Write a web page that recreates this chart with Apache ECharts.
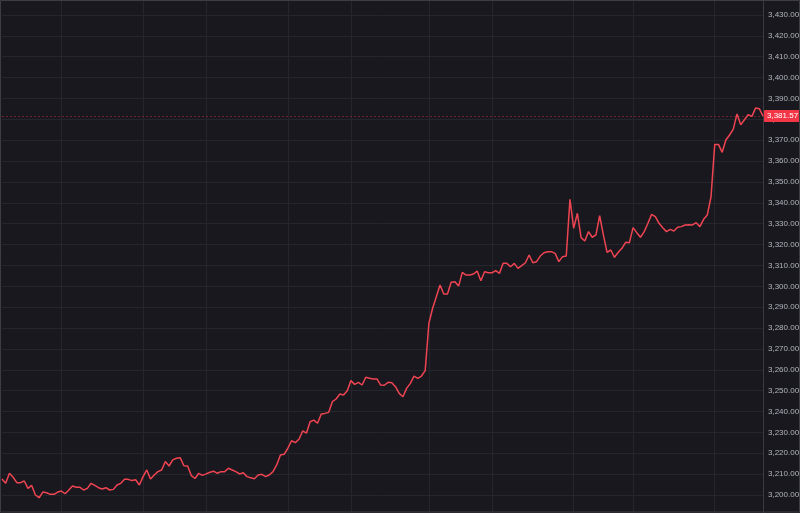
<!DOCTYPE html>
<html>
<head>
<meta charset="utf-8">
<script src="https://cdn.jsdelivr.net/npm/echarts@6/dist/echarts.min.js"></script>
<style>
html,body{margin:0;padding:0;background:#18181e;}
#chart{width:800px;height:513px;}
</style>
</head>
<body>
<div id="chart"></div>
<script>
// Price series, evenly spaced bars
const values = [
3207.7, 3205.6, 3210.4, 3208.5, 3205.9, 3205.9, 3206.7, 3203.2, 3204.6, 3200.0,
3198.7, 3201.4, 3201.1, 3200.3, 3200.3, 3201.4, 3201.9, 3200.6, 3202.4, 3204.3,
3203.7, 3203.7, 3202.4, 3203.2, 3205.6, 3204.6, 3203.5, 3202.9, 3203.5, 3202.4,
3202.7, 3204.8, 3205.6, 3207.5, 3207.5, 3206.9, 3207.3, 3204.8, 3208.8, 3212.0,
3207.7, 3209.6, 3211.2, 3212.0, 3216.0, 3213.9, 3216.8, 3217.6, 3217.9, 3214.0,
3213.9, 3209.3, 3207.9, 3210.4, 3209.4, 3210.1, 3210.9, 3211.4, 3210.4, 3211.2,
3211.2, 3212.8, 3212.0, 3211.2, 3210.1, 3210.7, 3208.8, 3208.3, 3207.8, 3209.6,
3209.9, 3208.8, 3209.6, 3211.2, 3214.4, 3219.2, 3219.5, 3222.4, 3226.0, 3225.1,
3226.7, 3230.7, 3229.6, 3235.1, 3235.9, 3234.4, 3238.8, 3239.1, 3239.6, 3244.7,
3246.0, 3248.4, 3247.9, 3250.0, 3254.8, 3253.0, 3254.0, 3252.7, 3256.4, 3255.9,
3255.6, 3255.6, 3252.7, 3252.6, 3254.0, 3253.8, 3251.9, 3248.7, 3247.1, 3251.1,
3253.5, 3257.0, 3255.9, 3257.0, 3259.6, 3282.3, 3289.5, 3295.0, 3300.6, 3296.3,
3296.3, 3301.9, 3302.2, 3300.1, 3306.7, 3305.4, 3305.4, 3305.9, 3307.3, 3302.7,
3307.0, 3306.5, 3306.5, 3307.5, 3306.2, 3311.0, 3311.0, 3309.4, 3311.0, 3308.6,
3309.9, 3311.3, 3315.0, 3311.3, 3311.8, 3314.5, 3316.1, 3316.6, 3316.6, 3315.8,
3311.8, 3314.2, 3314.5, 3341.7, 3327.8, 3335.0, 3323.3, 3321.7, 3326.2, 3323.5,
3324.6, 3333.8, 3324.6, 3316.3, 3317.4, 3313.9, 3316.3, 3318.2, 3321.1, 3320.9,
3328.1, 3325.7, 3323.5, 3326.2, 3330.2, 3334.5, 3333.4, 3330.2, 3328.1, 3326.2,
3327.3, 3326.5, 3328.3, 3328.6, 3329.4, 3329.5, 3329.4, 3330.5, 3328.6, 3332.1,
3334.2, 3342.9, 3368.0, 3368.0, 3364.2, 3370.1, 3372.5, 3375.3, 3382.6, 3377.4,
3379.8, 3382.2, 3381.4, 3385.4, 3385.1, 3381.57
];
// Category labels (bar index)
const categories = values.map((_, i) => String(i + 1));
// Bars where a vertical grid line is drawn
const sessionStarts = [16, 38, 55, 77, 94, 115, 132, 154, 170, 192];
// Price axis
const yMin = 3190, yMax = 3440, yStep = 10;
const lastPrice = values[values.length - 1];

const fmt = v => Number(v).toLocaleString('en-US', {minimumFractionDigits: 2, maximumFractionDigits: 2});

const chart = echarts.init(document.getElementById('chart'), null, {renderer: 'canvas'});
chart.setOption({
  backgroundColor: '#18181e',
  animation: false,
  grid: {left: 2, right: 37, top: -5.87, bottom: -2.87, containLabel: false, outerBoundsMode: 'none'},
  xAxis: {
    type: 'category',
    data: categories,
    boundaryGap: false,
    axisLine: {show: false},
    axisTick: {show: false},
    axisLabel: {show: false},
    splitLine: {
      show: true,
      interval: (idx) => sessionStarts.indexOf(idx) >= 0,
      lineStyle: {color: '#25252c', width: 1}
    }
  },
  yAxis: {
    type: 'value',
    position: 'right',
    min: yMin,
    max: yMax,
    interval: yStep,
    axisLine: {show: true, lineStyle: {color: '#3a3a40', width: 1}},
    axisTick: {show: false},
    axisLabel: {
      show: true,
      margin: 5,
      color: '#b2b5be',
      fontSize: 8,
      fontFamily: '"Liberation Sans Narrow", "Liberation Sans", sans-serif',
      formatter: v => fmt(v)
    },
    splitLine: {show: true, lineStyle: {color: '#25252c', width: 1}}
  },
  series: [{
    type: 'line',
    data: values,
    showSymbol: false,
    symbol: 'none',
    lineStyle: {color: '#ef4452', width: 1.5},
    z: 5,
    markLine: {
      silent: true,
      symbol: ['none', 'none'],
      data: [{yAxis: lastPrice}],
      lineStyle: {color: 'rgba(242,54,69,0.38)', type: [2, 2], width: 1},
      label: {
        show: true,
        position: 'end',
        distance: 1,
        formatter: () => fmt(lastPrice),
        backgroundColor: '#f23645',
        color: '#ffffff',
        fontSize: 8,
        fontFamily: '"Liberation Sans Narrow", "Liberation Sans", sans-serif',
        padding: [2, 3, 2, 3],
        borderRadius: 1
      }
    }
  }],
  graphic: [{
    type: 'rect',
    silent: true,
    z: 100,
    shape: {x: 0.5, y: 0.5, width: 799, height: 511.5},
    style: {fill: null, stroke: '#3d3d43', lineWidth: 1}
  }]
});
</script>
</body>
</html>
